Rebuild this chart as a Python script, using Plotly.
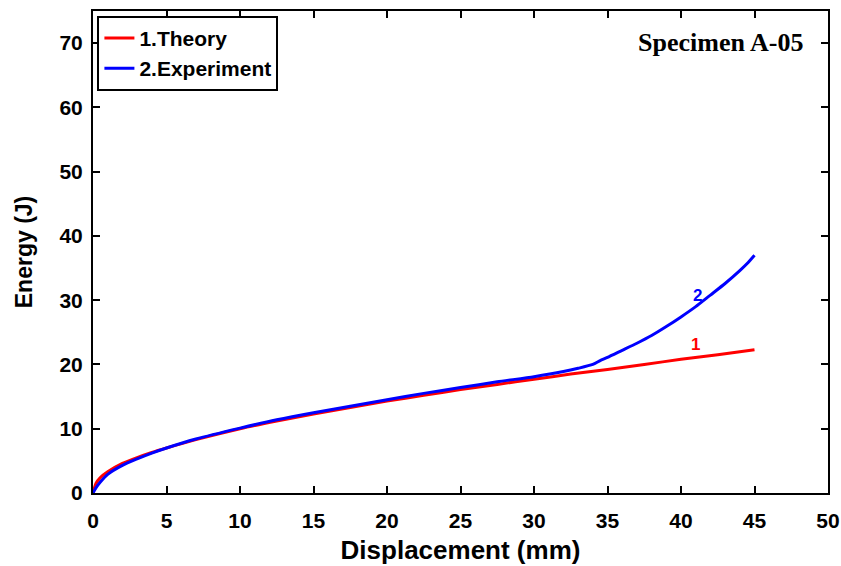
import plotly.graph_objects as go

theory_x = [0, 0.2, 0.5, 1, 2, 3, 4, 5, 7, 10, 12.5, 15, 17.5, 20, 22.5, 25, 27.5, 30, 32.5, 35, 37.5, 40, 42.5, 45]
theory_y = [0, 1.5, 2.4, 3.3, 4.6, 5.5, 6.3, 7.0, 8.3, 10.0, 11.2, 12.3, 13.3, 14.3, 15.2, 16.1, 16.9, 17.7, 18.5, 19.2, 20.0, 20.8, 21.5, 22.3]

exp_x = [0, 0.2, 0.5, 1, 2, 3, 4, 5, 7, 10, 12.5, 15, 17.5, 20, 22.5, 25, 27.5, 30, 32, 33, 34, 34.5, 35, 36, 37, 38, 39, 40, 41, 42, 43, 44, 44.5, 45]
exp_y = [0, 0.8, 1.7, 2.9, 4.3, 5.3, 6.2, 7.0, 8.4, 10.1, 11.4, 12.5, 13.5, 14.5, 15.5, 16.4, 17.3, 18.1, 18.9, 19.4, 20.0, 20.6, 21.1, 22.2, 23.3, 24.5, 25.9, 27.4, 29.0, 30.8, 32.6, 34.6, 35.7, 37.0]

x_ticks = [0, 5, 10, 15, 20, 25, 30, 35, 40, 45, 50]
y_ticks = [0, 10, 20, 30, 40, 50, 60, 70]

fig = go.Figure()
fig.add_trace(go.Scatter(x=theory_x, y=theory_y, mode="lines", name="<b>1.Theory</b>",
                         line=dict(color="#ff0000", width=3, shape="spline", smoothing=0.6)))
fig.add_trace(go.Scatter(x=exp_x, y=exp_y, mode="lines", name="<b>2.Experiment</b>",
                         line=dict(color="#0000ff", width=3, shape="spline", smoothing=0.6)))

fig.add_annotation(x=41.1, y=30.8, text="<b>2</b>", showarrow=False,
                   font=dict(color="#0000ff", size=17, family="Liberation Sans"))
fig.add_annotation(x=41.0, y=23.1, text="<b>1</b>", showarrow=False,
                   font=dict(color="#ff0000", size=17, family="Liberation Sans"))
fig.add_annotation(xref="paper", yref="paper", x=0.969, y=0.935, xanchor="right", yanchor="middle",
                   text="<b>Specimen A-05</b>", showarrow=False,
                   font=dict(color="black", size=26, family="Liberation Serif"))

axis_common = dict(showline=True, linecolor="black", linewidth=2, mirror="ticks",
                   ticks="inside", ticklen=7, tickwidth=2, tickcolor="black",
                   showgrid=False, zeroline=False, automargin=False,
                   tickfont=dict(family="Liberation Sans", size=21, color="black"))

fig.update_layout(
    width=841, height=566,
    margin=dict(l=93, r=13, t=11, b=73),
    paper_bgcolor="white", plot_bgcolor="white",
    xaxis=dict(range=[0, 50], tickvals=x_ticks, ticktext=[f"<b>{v}</b>" for v in x_ticks],
               ticklabelstandoff=8,
               title=dict(text="<b>Displacement (mm)</b>", standoff=10,
                          font=dict(family="Liberation Sans", size=26, color="black")),
               **axis_common),
    yaxis=dict(range=[0, 75], tickvals=y_ticks, ticktext=[f"<b>{v}</b>" for v in y_ticks],
               ticklabelstandoff=4,
               title=dict(text="<b>Energy (J)</b>", standoff=20,
                          font=dict(family="Liberation Sans", size=23, color="black")),
               **axis_common),
    legend=dict(x=0.006, y=0.99, xanchor="left", yanchor="top",
                bordercolor="black", borderwidth=2, bgcolor="white",
                font=dict(family="Liberation Sans", size=21, color="black"),
                tracegroupgap=0, itemwidth=30),
    showlegend=True,
)

fig.write_html("out.html")
